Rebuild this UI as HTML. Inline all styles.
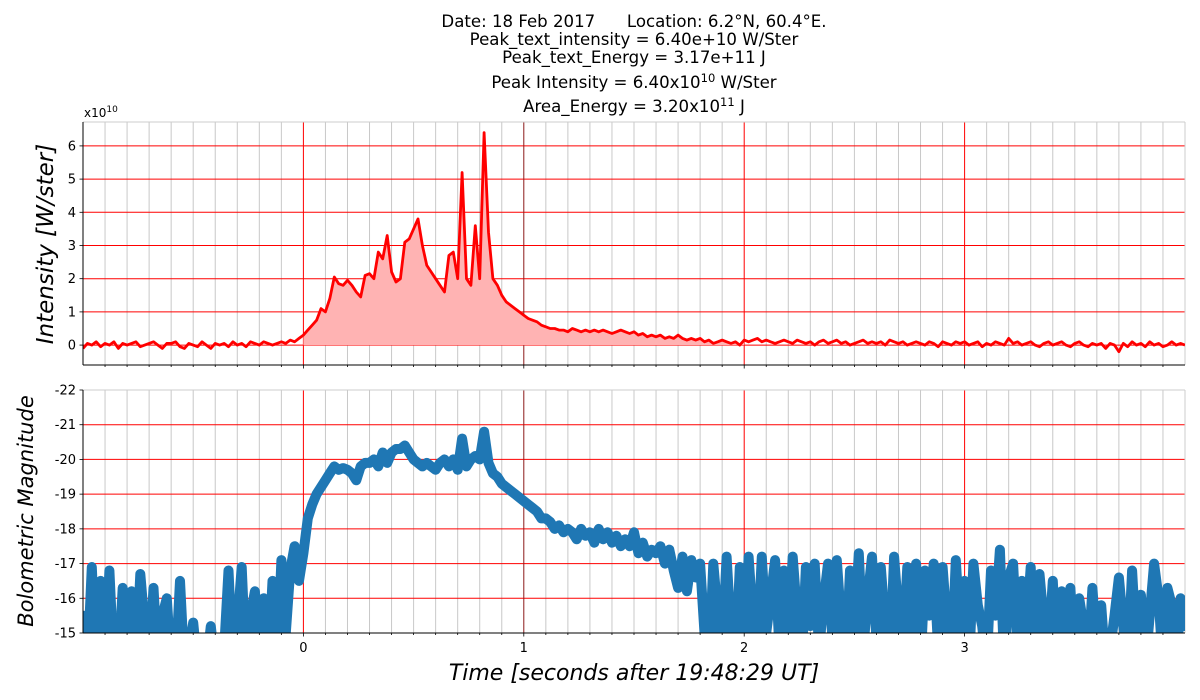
<!DOCTYPE html>
<html><head><meta charset="utf-8"><style>
body{margin:0;background:#fff;}
svg{display:block;font-family:"DejaVu Sans","Liberation Sans",sans-serif;}
</style></head><body>
<svg id="chart" width="1200" height="700" viewBox="0 0 1200 700" xmlns="http://www.w3.org/2000/svg">
<g font-size="16.6" text-anchor="middle" fill="#000">
<text x="634" y="27" xml:space="preserve">Date: 18 Feb 2017      Location: 6.2°N, 60.4°E.</text>
<text x="634" y="45">Peak_text_intensity = 6.40e+10 W/Ster</text>
<text x="634" y="63">Peak_text_Energy = 3.17e+11 J</text>
<text x="634" y="88">Peak Intensity = 6.40x10<tspan dy="-6" font-size="11.5">10</tspan><tspan dy="6"> W/Ster</tspan></text>
<text x="634" y="112">Area_Energy = 3.20x10<tspan dy="-6" font-size="11.5">11</tspan><tspan dy="6"> J</tspan></text>
</g>
<g id="top"></g>
<g id="bot"></g>
<text x="84" y="117" font-size="12">x10<tspan dy="-5" font-size="9">10</tspan></text>
<text transform="translate(53,244) rotate(-90)" font-size="23" font-style="italic" text-anchor="middle">Intensity [W/ster]</text>
<text transform="translate(33,511) rotate(-90)" font-size="21" font-style="italic" text-anchor="middle">Bolometric Magnitude</text>
<text x="634" y="680" font-size="22" font-style="italic" text-anchor="middle">Time [seconds after 19:48:29 UT]</text>
</svg>
<script>
const tStart = -1, tStep = 0.02;
const intensity = [-0.1,0.05,0.0,0.1,-0.05,0.05,0.0,0.1,-0.1,0.05, 0.0,0.05,0.1,-0.05,0.0,0.05,0.1,0.0,-0.1,0.05, 0.05,0.1,-0.05,-0.1,0.05,0.0,-0.05,0.1,0.0,-0.1, 0.05,0.0,0.05,-0.05,0.1,0.0,0.05,-0.05,0.1,0.05, 0.0,0.1,0.05,0.0,0.05,0.1,0.05,0.15,0.1,0.2,
0.3,0.45,0.6,0.75,1.1,1.0,1.4,2.05,1.85,1.8, 1.95,1.8,1.6,1.45,2.1,2.15,2.0,2.8,2.6,3.3, 2.2,1.9,2.0,3.1,3.2,3.5,3.8,3.0,2.4,2.2, 2.0,1.8,1.6,2.7,2.8,2.0,5.2,2.0,1.8,3.6, 2.0,6.4,3.4,2.0,1.8,1.5,1.3,1.2,1.1,1.0,
0.9,0.8,0.75,0.7,0.6,0.55,0.5,0.5,0.45,0.45, 0.4,0.5,0.45,0.4,0.45,0.4,0.45,0.4,0.45,0.4, 0.35,0.4,0.45,0.4,0.35,0.4,0.3,0.35,0.25,0.3, 0.25,0.3,0.2,0.25,0.2,0.3,0.2,0.15,0.2,0.15, 0.2,0.1,0.15,0.05,0.1,0.15,0.1,0.05,0.1,0.0,
0.15,0.1,0.15,0.2,0.1,0.15,0.1,0.05,0.1,0.15, 0.1,0.05,0.15,0.1,0.05,0.1,0.0,0.1,0.15,0.05, 0.1,0.15,0.05,0.1,0.0,0.05,0.1,0.15,0.05,0.1, 0.05,0.1,0.0,0.15,0.1,0.05,0.1,0.0,0.05,0.1, 0.05,0.0,0.1,0.05,-0.05,0.1,0.05,0.0,0.1,0.05,
0.1,0.0,0.05,0.1,-0.05,0.05,0.0,0.1,0.05,0.0, 0.2,0.05,0.1,0.0,0.05,0.1,0.0,-0.05,0.05,0.1, 0.0,0.05,0.1,0.0,-0.05,0.05,0.1,0.0,-0.05,0.05, 0.0,0.05,-0.1,0.05,0.0,-0.2,0.05,-0.05,0.1,0.0, 0.05,-0.05,0.1,0.0,0.05,-0.05,0.0,0.1,0.0,0.05, 0.0];
const magnitude = [-15.5,-14,-16.9,-14,-16.5,-14,-16.8,-14,-14,-16.3, -14,-16.2,-14,-16.7,-15.2,-14,-16.3,-14,-15.5,-16.0, -14,-14,-16.5,-14,-14.5,-15.3,-14,-14,-14,-15.2, -14,-14,-14.5,-16.8,-14,-15.2,-16.9,-14,-15.5,-16.2, -14,-16.0,-14,-16.5,-14,-17.1,-15.0,-16.8,-17.5,-16.5,
-17.3,-18.3,-18.7,-19.0,-19.2,-19.4,-19.6,-19.8,-19.7,-19.75, -19.7,-19.6,-19.4,-19.8,-19.9,-19.9,-20.0,-19.8,-20.2,-19.9, -20.2,-20.3,-20.3,-20.4,-20.2,-20.0,-19.9,-19.8,-19.9,-19.8, -19.7,-19.9,-20.0,-19.8,-20.0,-19.7,-20.6,-19.8,-20.0,-20.1, -20.0,-20.8,-19.9,-19.6,-19.5,-19.3,-19.2,-19.1,-19.0,-18.9,
-18.8,-18.7,-18.6,-18.5,-18.3,-18.3,-18.2,-18.0,-18.1,-17.9, -18.0,-17.9,-17.7,-18.0,-17.8,-17.9,-17.6,-18.0,-17.7,-17.9, -17.6,-17.8,-17.5,-17.7,-17.5,-17.9,-17.3,-17.6,-17.2,-17.4, -17.3,-17.5,-17.0,-17.4,-16.8,-16.3,-17.2,-16.2,-17.1,-16.6, -17.0,-15.0,-14,-17.0,-15.5,-14.5,-17.2,-15.0,-14,-16.9,
-14,-17.2,-15.3,-14.5,-17.2,-15.0,-16.0,-17.1,-14.5,-16.8, -14.8,-17.2,-15.5,-14,-16.9,-15.2,-17.0,-14.5,-15.9,-17.0, -14.8,-17.1,-15.3,-14,-16.8,-15.0,-17.3,-14.5,-16.0,-17.2, -14.8,-16.9,-15.2,-14,-17.2,-15.5,-14.5,-16.9,-15.0,-17.0, -14,-16.8,-15.5,-17.0,-14.5,-16.9,-15.2,-14,-17.1,-15.0,
-16.5,-14,-17.0,-15.8,-15.2,-14,-16.8,-15.5,-17.4,-14, -16.6,-17.0,-14.5,-16.5,-15.0,-16.9,-14,-16.7,-15.3,-14.5, -16.5,-14,-16.2,-15.0,-16.3,-14,-16.0,-15.2,-14,-16.3, -14.5,-15.8,-14,-14.5,-15.5,-16.6,-15.2,-14,-16.8,-14.5, -16.1,-14,-15.5,-17.0,-16.0,-14,-16.3,-15.8,-14,-16.0, -15.2];
const xTicks = [0,1,2,3];
const topYTicks = [0,1,2,3,4,5,6];
const botYTicks = [-22,-21,-20,-19,-18,-17,-16,-15];

const NS="http://www.w3.org/2000/svg";
const X0=83,X1=1185, xMin=-1,xMax=4;
const xs=t=>X0+(t-xMin)/(xMax-xMin)*(X1-X0);
function mk(tag,attrs,parent){const e=document.createElementNS(NS,tag);for(const k in attrs)e.setAttribute(k,attrs[k]);parent.appendChild(e);return e;}

function axes(g,top,bot,yMin,yMax,yTicks,name){
  const ys=v=>bot-(v-yMin)/(yMax-yMin)*(bot-top);
  const cid='clip-'+name;
  const cp=mk('clipPath',{id:cid},g);
  mk('rect',{x:X0,y:top,width:X1-X0,height:bot-top},cp);
  for(let i=-10;i<=40;i++){const t=i/10;if(i%10===0)continue;
    const l=mk('line',{x1:xs(t),x2:xs(t),y1:top,y2:bot,stroke:'#c8c8c8','stroke-width':1},g);
    
    
    mk('line',{x1:xs(t),x2:xs(t),y1:bot,y2:bot+2,stroke:'#000','stroke-width':0.8},g);
  }
  yTicks.forEach(v=>{
    const l=mk('line',{x1:X0,x2:X1,y1:ys(v),y2:ys(v),stroke:'#f00','stroke-width':1},g);
    
    
    mk('line',{x1:X0-3.5,x2:X0,y1:ys(v),y2:ys(v),stroke:'#000','stroke-width':0.8},g);
    const tx=mk('text',{x:X0-7,y:ys(v)+4.5,'font-size':13,'text-anchor':'end'},g);
    tx.textContent=v;
    
    
  });
  xTicks.forEach(v=>{
    const l=mk('line',{x1:xs(v),x2:xs(v),y1:top,y2:bot,stroke:v===1?'#8b1a1a':'#f00','stroke-width':1},g);
    
    
    mk('line',{x1:xs(v),x2:xs(v),y1:bot,y2:bot+3.5,stroke:'#000','stroke-width':0.8},g);
  });
  mk('line',{x1:X0,x2:X1,y1:top,y2:top,stroke:'#ccc','stroke-width':1},g);
  mk('line',{x1:X1,x2:X1,y1:top,y2:bot,stroke:'#ccc','stroke-width':1},g);
  return {ys,cid};
}

// top panel
const gt=document.getElementById('top');


const A=axes(gt,122,365,-0.6,6.72,topYTicks,'top');
let fillPts=[],linePts=[];
intensity.forEach((v,i)=>{const t=tStart+i*tStep;linePts.push(xs(t).toFixed(1)+','+A.ys(v).toFixed(1));
  if(t>=-0.001&&t<=2.0)fillPts.push(xs(t).toFixed(1)+','+A.ys(Math.max(v,0)).toFixed(1));});
fillPts.unshift(xs(0)+','+A.ys(0));fillPts.push(xs(2.0)+','+A.ys(0));
const fill=mk('polygon',{points:fillPts.join(' '),fill:'#ffb3b3','clip-path':'url(#'+A.cid+')'},gt);


const line=mk('polyline',{points:linePts.join(' '),fill:'none',stroke:'#f00','stroke-width':2.8,'stroke-linejoin':'round','clip-path':'url(#'+A.cid+')'},gt);


mk('line',{x1:X0,x2:X0,y1:122,y2:365,stroke:'#000','stroke-width':1},gt);
mk('line',{x1:X0,x2:X1,y1:365,y2:365,stroke:'#000','stroke-width':1},gt);

// bottom panel
const gb=document.getElementById('bot');


const B=axes(gb,390,633,-15,-22,botYTicks,'bot');
xTicks.forEach(v=>{const tx=mk('text',{x:xs(v),y:652,'font-size':13,'text-anchor':'middle'},gb);tx.textContent=v;
  
  });
const mPts=magnitude.map((v,i)=>xs(tStart+i*tStep).toFixed(1)+','+B.ys(v).toFixed(1));
const ml=mk('polyline',{points:mPts.join(' '),fill:'none',stroke:'#1f77b4','stroke-width':10,'stroke-linejoin':'round','stroke-linecap':'round','clip-path':'url(#'+B.cid+')'},gb);


mk('line',{x1:X0,x2:X0,y1:390,y2:633,stroke:'#000','stroke-width':1},gb);
mk('line',{x1:X0,x2:X1,y1:633,y2:633,stroke:'#000','stroke-width':1},gb);
</script>
</body></html>
